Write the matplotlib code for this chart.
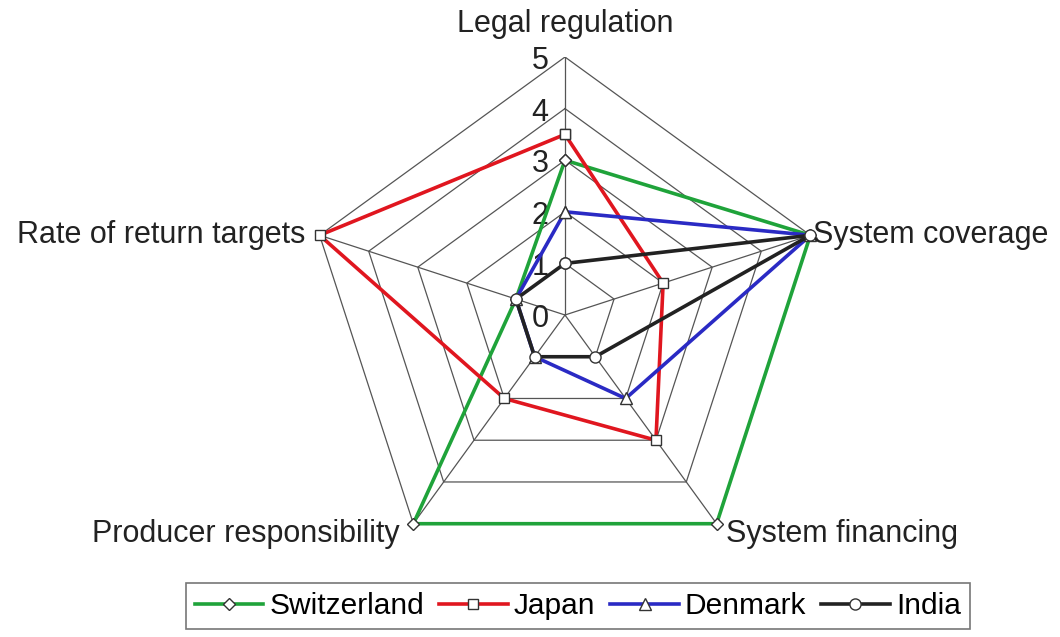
import numpy as np
import matplotlib
matplotlib.use("Agg")
import matplotlib.pyplot as plt

plt.rcParams["font.family"] = ["Liberation Sans", "DejaVu Sans"]

categories = ["Legal regulation", "System coverage", "System financing",
              "Producer responsibility", "Rate of return targets"]
switzerland = [3, 5, 5, 5, 1]
japan = [3.5, 2, 3, 2, 5]
denmark = [2, 5, 2, 1, 1]
india = [1, 5, 1, 1, 1]
ring_levels = [0, 1, 2, 3, 4, 5]

series = [
    ("Switzerland", switzerland, "#1fa33a", "D", 6),
    ("Japan", japan, "#e0161f", "s", 7),
    ("Denmark", denmark, "#2a2ac4", "^", 8),
    ("India", india, "#222222", "o", 8),
]

n = len(categories)
theta = np.linspace(0, 2 * np.pi, n, endpoint=False)
theta_c = np.append(theta, theta[0])

fig = plt.figure(figsize=(10.6, 6.37), dpi=100)
ax = fig.add_axes([0.2896, 0.1005, 0.4868, 0.81], projection="polar")
ax.set_theta_zero_location("N")
ax.set_theta_direction(-1)
ax.set_ylim(0, 5)
ax.grid(False)
ax.spines["polar"].set_visible(False)
ax.set_xticks([])
ax.set_yticks([])
ax.patch.set_alpha(0)

# pentagon grid
for lv in ring_levels[1:]:
    ax.plot(theta_c, [lv] * (n + 1), color="#555555", lw=0.9, zorder=1)
for t in theta:
    ax.plot([t, t], [0, 5], color="#555555", lw=0.9, zorder=1)

for lv in ring_levels:
    ax.annotate(str(lv), xy=(0, lv), xytext=(-25, -4), textcoords="offset pixels",
                ha="center", va="center", fontsize=22, color="#222222")

for name, vals, col, mk, ms in series:
    v = vals + vals[:1]
    ax.plot(theta_c, v, color=col, lw=2.6, marker=mk, markersize=ms,
            markerfacecolor="white", markeredgecolor="#333333",
            markeredgewidth=1.0, label=name, zorder=3, clip_on=False)

# category labels
offsets = [((0, 33), "center", "center"),
           ((3, 0), "left", "center"),
           ((9, -10), "left", "center"),
           ((-14, -10), "right", "center"),
           ((-14, 0), "right", "center")]
for t, lab, (off, ha, va) in zip(theta, categories, offsets):
    ax.annotate(lab, xy=(t, 5), xytext=off, textcoords="offset pixels",
                ha=ha, va=va, fontsize=22, color="#222222")

leg = fig.legend(loc="center", bbox_to_anchor=(0.545, 0.048), ncol=4,
                 fontsize=21.5, frameon=True, fancybox=False, edgecolor="#555555",
                 handlelength=2.3, handletextpad=0.2, columnspacing=0.5,
                 borderpad=0.3)
leg.get_frame().set_linewidth(1.2)

fig.savefig("out.png", dpi=100)
